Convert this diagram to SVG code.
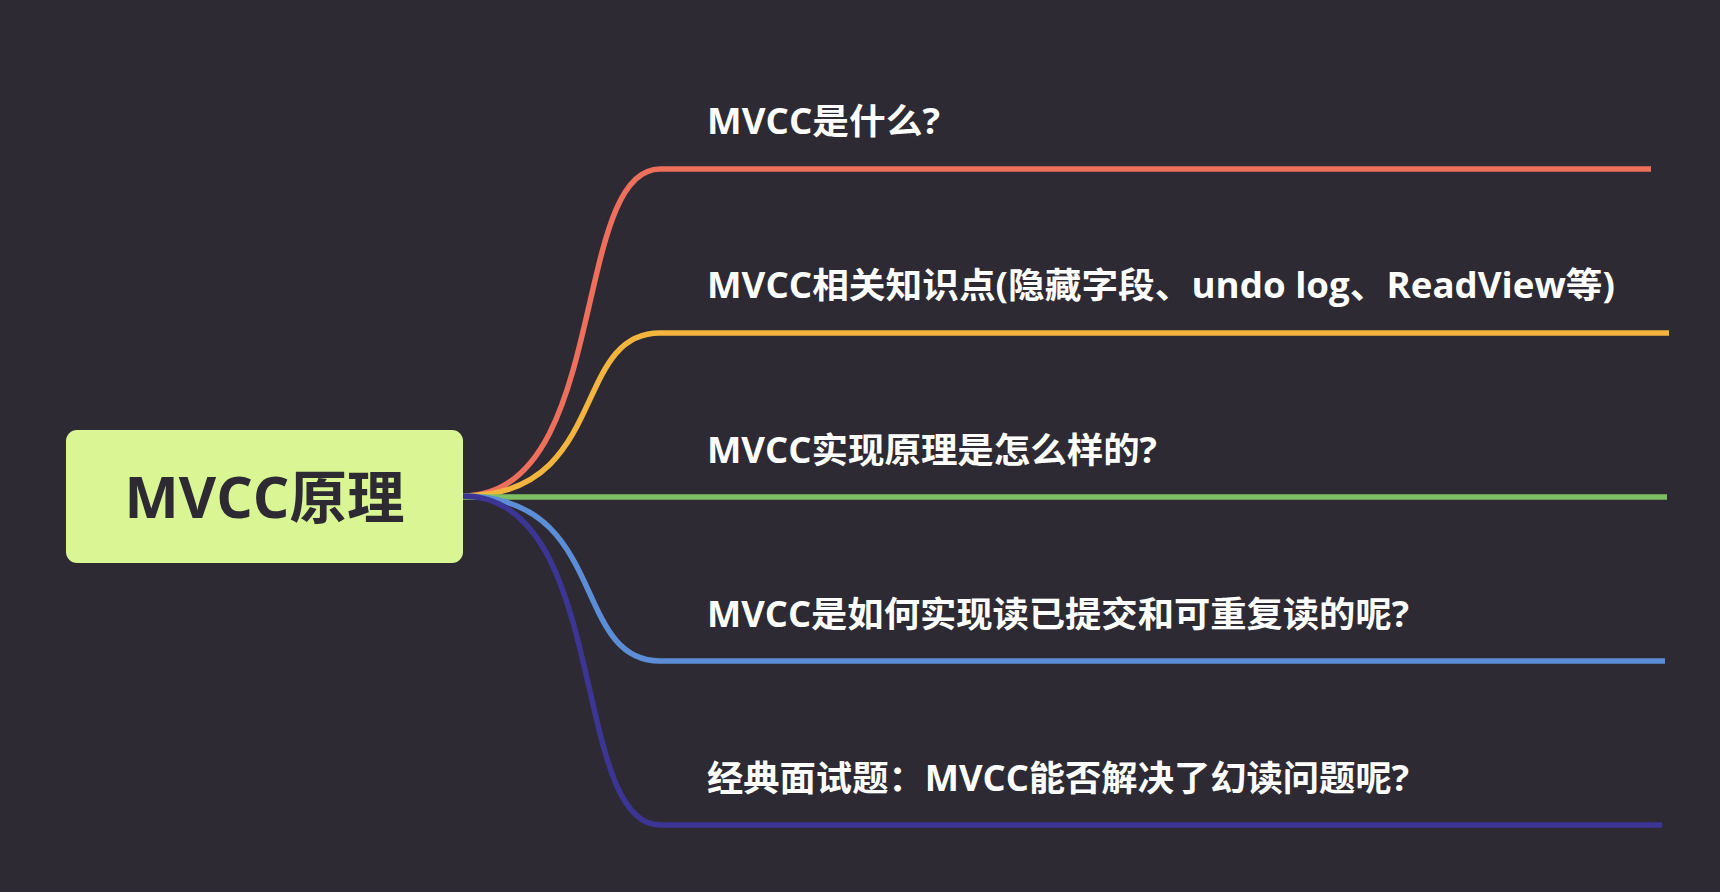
<svg xmlns="http://www.w3.org/2000/svg" width="1720" height="892" viewBox="0 0 1720 892">
<style>
.bg{fill:#2d2a33}
.br{fill:none;stroke-width:5.5;stroke-linecap:butt}
.t{font-family:"Open Sans","Noto Sans CJK SC",sans-serif;font-weight:bold;font-size:35px;fill:#ffffff}
.c{font-family:"Open Sans","Noto Sans CJK SC",sans-serif;font-weight:bold;font-size:57px;fill:#2d2a33}
</style>
<rect class="bg" x="0" y="0" width="1720" height="892"/>
<g id="connectors">
<path class="br" stroke="#ee6f5c" d="M463,496 C610,496 570,169 660,169 L1651,169"/>
<path class="br" stroke="#f4b53f" d="M463,496 C610,496 570,333 660,333 L1669,333"/>
<path class="br" stroke="#7fbf64" d="M463,497 L1667,497"/>
<path class="br" stroke="#5b8ed6" d="M463,496 C610,496 570,661 660,661 L1665,661"/>
<path class="br" stroke="#3d3594" d="M463,496 C610,496 570,825 660,825 L1662,825"/>
</g>
<g id="root">
<rect x="66" y="430" width="397" height="133" rx="11" fill="#d9f594"/>
<text class="c" x="264.5" y="518" text-anchor="middle" textLength="280" lengthAdjust="spacingAndGlyphs">MVCC原理</text>
</g>
<g id="n1"><text class="t" x="707" y="134" textLength="233" lengthAdjust="spacingAndGlyphs">MVCC是什么?</text></g>
<g id="n2"><text class="t" x="707" y="298" textLength="908" lengthAdjust="spacingAndGlyphs">MVCC相关知识点(隐藏字段、undo log、ReadView等)</text></g>
<g id="n3"><text class="t" x="707" y="463" textLength="450" lengthAdjust="spacingAndGlyphs">MVCC实现原理是怎么样的?</text></g>
<g id="n4"><text class="t" x="707" y="627" textLength="702" lengthAdjust="spacingAndGlyphs">MVCC是如何实现读已提交和可重复读的呢?</text></g>
<g id="n5"><text class="t" x="707" y="791" textLength="702" lengthAdjust="spacingAndGlyphs">经典面试题：MVCC能否解决了幻读问题呢?</text></g>
</svg>
